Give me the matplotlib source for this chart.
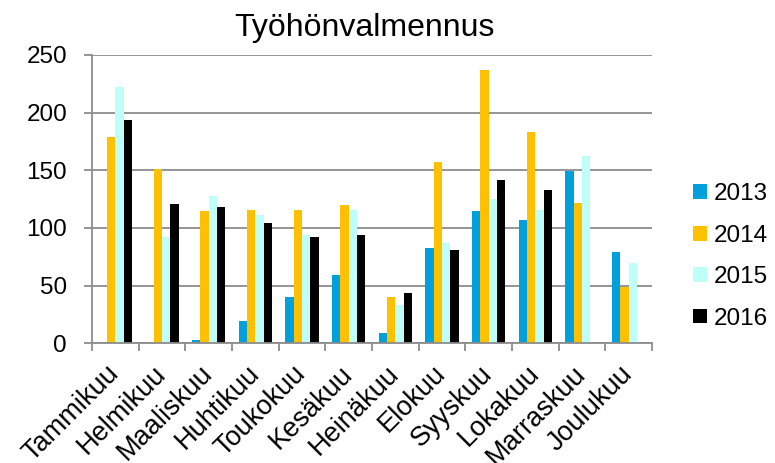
import numpy as np
import matplotlib
matplotlib.use("Agg")
import matplotlib.pyplot as plt

plt.rcParams['font.family'] = ['Liberation Sans', 'DejaVu Sans']

# Kuukaudet ja arvot vuosittain
months = ["Tammikuu", "Helmikuu", "Maaliskuu", "Huhtikuu", "Toukokuu", "Kesäkuu",
          "Heinäkuu", "Elokuu", "Syyskuu", "Lokakuu", "Marraskuu", "Joulukuu"]
years = ["2013", "2014", "2015", "2016"]
v2013 = [0, 0, 3, 19, 40, 59, 9, 83, 115, 107, 149, 79]
v2014 = [179, 151, 115, 116, 116, 120, 40, 157, 237, 183, 122, 49]
v2015 = [222, 92, 128, 111, 94, 116, 33, 87, 125, 116, 162, 70]
v2016 = [194, 121, 118, 104, 92, 94, 44, 81, 142, 133, 0, 0]
colors = ["#00A0DC", "#FFC000", "#BFFFFA", "#000000"]

series = [v2013, v2014, v2015, v2016]

fig = plt.figure(figsize=(7.75, 4.63), dpi=100)
ax = fig.add_axes([92/775, 1 - 343.3/463, 560/775, 288.3/463])

x = np.arange(len(months))
w = 0.1786
for i, (vals, c, lab) in enumerate(zip(series, colors, years)):
    ax.bar(x + (i - 1.5) * w, vals, width=w, color=c, label=lab, zorder=3)

ax.set_ylim(0, 250)
ax.set_xlim(-0.5, 11.5)
ax.set_yticks(np.arange(0, 251, 50))
ax.yaxis.grid(True, color="#8c8c8c", linewidth=1.3, zorder=0)

grey = "#8c8c8c"
for s in ["top", "right"]:
    ax.spines[s].set_visible(False)
for s in ["left", "bottom"]:
    ax.spines[s].set_color(grey)
    ax.spines[s].set_linewidth(1.3)
    ax.spines[s].set_zorder(4)

# rajaviivat kategorioiden välissä, nimet keskellä
ax.set_xticks(np.arange(-0.5, 12, 1))
ax.set_xticklabels([])
ax.set_xticks(x, minor=True)
ax.set_xticklabels(months, minor=True)
ax.tick_params(axis="x", which="major", length=6, width=1.3, color=grey)
ax.tick_params(axis="x", which="minor", length=0, pad=19, labelsize=19.5)
ax.tick_params(axis="y", length=6, width=1.3, color=grey, labelsize=17.5, pad=12)
plt.setp(ax.get_xticklabels(minor=True), rotation=45, ha="right", va="center",
         rotation_mode="anchor")

fig.text(364/775, 1 - 36/463, "Työhönvalmennus", fontsize=23, ha="center", va="baseline")

fig.legend(loc="center left", bbox_to_anchor=(693/775, 1 - 256.5/463), frameon=False,
           fontsize=17.5, handlelength=0.56, handleheight=0.56, handletextpad=0.3,
           labelspacing=0.8, borderpad=0, borderaxespad=0)

fig.savefig("out.png", dpi=100)
